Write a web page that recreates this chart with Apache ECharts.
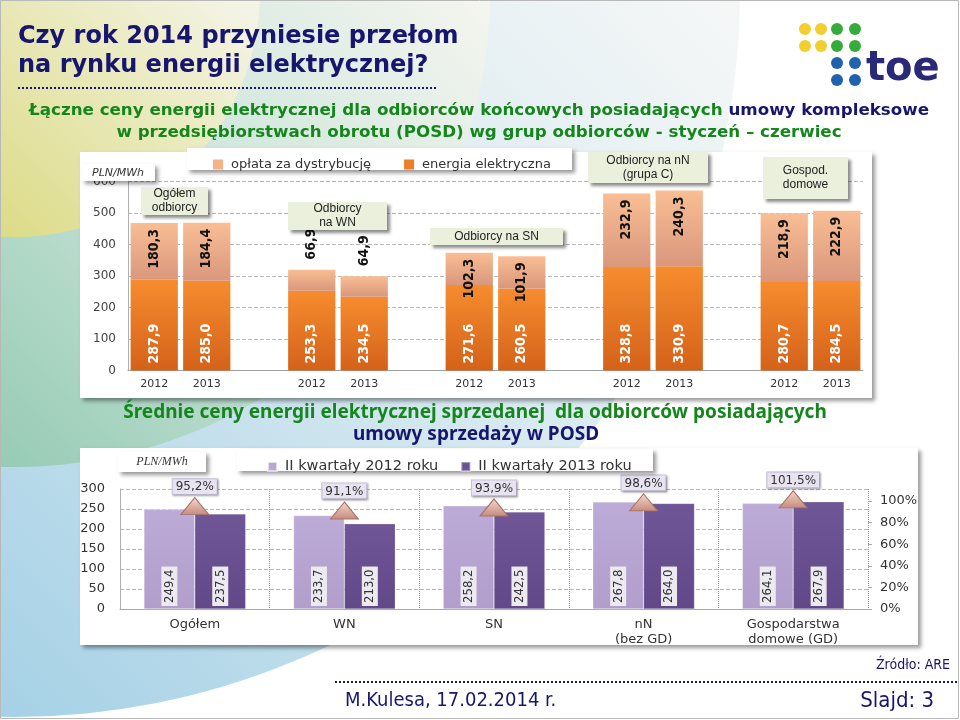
<!DOCTYPE html>
<html><head><meta charset="utf-8">
<script src="https://cdn.jsdelivr.net/npm/echarts@6/dist/echarts.min.js"></script>
<style>html,body{margin:0;padding:0;background:#fff}#c{width:960px;height:720px}</style>
</head><body><div id="c"></div>
<script>
// ---------- DATA ----------
const topGroups = ['Ogółem odbiorcy', 'Odbiorcy na WN', 'Odbiorcy na SN', 'Odbiorcy na nN (grupa C)', 'Gospod. domowe'];
const topYears = ['2012', '2013'];
const topSeriesNames = ['opłata za dystrybucję', 'energia elektryczna'];
// per group: 2012, 2013
const energia = [287.9, 285.0, 253.3, 234.5, 271.6, 260.5, 328.8, 330.9, 280.7, 284.5];
const oplata  = [180.3, 184.4, 66.9, 64.9, 102.3, 101.9, 232.9, 240.3, 218.9, 222.9];

const bottomCategories = ['Ogółem', 'WN', 'SN', 'nN\n(bez GD)', 'Gospodarstwa\ndomowe (GD)'];
const bottomSeriesNames = ['II kwartały 2012 roku', 'II kwartały 2013 roku'];
const q2012 = [249.4, 233.7, 258.2, 267.8, 264.1];
const q2013 = [237.5, 213.0, 242.5, 264.0, 267.9];
const ratio = [95.2, 91.1, 93.9, 98.6, 101.5];

// ---------- BUILD ----------
const fMain = "'DejaVu Sans', Verdana, sans-serif";
const fArial = "'Liberation Sans', Arial, sans-serif";
const fNoto = "'Noto Sans', 'Open Sans', sans-serif";
const fNarrow = "'Liberation Sans Narrow','DejaVu Sans Condensed','Arial Narrow',sans-serif";
const fmt = v => Number(v).toFixed(1).replace('.', ',');

const topCats = [], topE = [], topO = [];
topGroups.forEach((g, gi) => {
  topYears.forEach((y, yi) => {
    topCats.push(g + '|' + y);
    topE.push(energia[gi * 2 + yi]);
    const o = oplata[gi * 2 + yi];
    topO.push(o < 80 ? {value: o, label: {position: 'top', align: 'left', distance: 10}} : o);
  });
  if (gi < topGroups.length - 1) { topCats.push('gap' + gi); topE.push(null); topO.push(null); }
});

const grad = (a, b) => ({type: 'linear', x: 0, y: 0, x2: 0, y2: 1, colorStops: [{offset: 0, color: a}, {offset: 1, color: b}]});
const navy = '#17166f', green = '#15861c';

function annot(x, y, w, h, text) {
  return [
    {type: 'rect', z: 40, shape: {x: x, y: y, width: w, height: h},
     style: {fill: '#eaf0dc', shadowBlur: 3, shadowOffsetX: 3, shadowOffsetY: 3, shadowColor: 'rgba(0,0,0,0.45)'}},
    {type: 'text', z: 41, style: {text: text, x: x + w / 2, y: y + h / 2, align: 'center', verticalAlign: 'middle',
      textAlign: 'center', textVerticalAlign: 'middle', font: '12px ' + fArial, fill: '#222', lineHeight: 14}}
  ];
}
function box(x, y, w, h, z) {
  return {type: 'rect', z: z, shape: {x: x, y: y, width: w, height: h},
    style: {fill: '#fff', shadowBlur: 4, shadowOffsetX: 3, shadowOffsetY: 3, shadowColor: 'rgba(0,0,0,0.4)'}};
}
function txt(text, x, y, font, fill, align) {
  return {type: 'text', z: 45, style: {text: text, x: x, y: y, font: font, fill: fill, align: align || 'left', textAlign: align || 'left',
    verticalAlign: 'middle', textVerticalAlign: 'middle'}};
}

const graphics = [
  // background
  {type: 'rect', z: -10, shape: {x: 0, y: 0, width: 960, height: 720}, style: {fill: '#ffffff'}},
  {type: 'circle', z: -9, shape: {cx: 15, cy: -8, r: 725}, style: {fill: {type: 'linear', x: 0, y: 717, x2: 720, y2: 0, global: true,
    colorStops: [{offset: 0, color: '#a5d1e6'}, {offset: 0.5, color: '#d3e7ef'}, {offset: 1, color: '#f5f7f7'}]}}},
  {type: 'circle', z: -8, shape: {cx: 15, cy: -8, r: 475}, style: {fill: {type: 'linear', x: 0, y: 470, x2: 470, y2: 0, global: true,
    colorStops: [{offset: 0, color: '#96cbb5'}, {offset: 0.55, color: '#cfe6dc'}, {offset: 1, color: '#f3f5ee'}]}}},
  {type: 'circle', z: -7, shape: {cx: 15, cy: -8, r: 245}, style: {fill: {type: 'linear', x: 0, y: 240, x2: 240, y2: 0, global: true,
    colorStops: [{offset: 0, color: '#dcdb86'}, {offset: 1, color: '#f4f4e6'}]}}},
  // chart boxes
  box(80, 152, 792, 246, -5),
  box(80, 448, 838, 197, -5),
  // legend boxes
  box(187, 148, 385, 22, 30),
  box(237, 449, 416, 22, 30),
  // PLN/MWh boxes
  box(82, 164, 73, 17, 30),
  box(118, 452, 88, 20, 30),
  txt('PLN/MWh', 92, 173, 'italic 11px ' + fMain, '#333'),
  txt('PLN/MWh', 162, 462, 'italic 12px \'Liberation Serif\', serif', '#333', 'center'),
  // titles
  txt('Czy rok 2014 przyniesie przełom', 18, 37, 'bold 24px ' + fMain, navy),
  txt('na rynku energii elektrycznej?', 18, 66, 'bold 24px ' + fMain, navy),
  {type: 'line', z: 45, shape: {x1: 18, y1: 88, x2: 436, y2: 88}, style: {stroke: navy, lineWidth: 2, lineDash: [2, 2]}},
  {type: 'text', z: 45, style: {text: '{g|Łączne ceny energii elektrycznej dla odbiorców końcowych posiadających }{b|umowy kompleksowe}',
    x: 479, y: 111, align: 'center', textAlign: 'center', verticalAlign: 'middle', textVerticalAlign: 'middle',
    rich: {g: {fill: green, font: 'bold 16.7px ' + fMain}, b: {fill: navy, font: 'bold 16.7px ' + fMain}}}},
  txt('w przedsiębiorstwach obrotu (POSD) wg grup odbiorców - styczeń – czerwiec', 479, 133, 'bold 16.7px ' + fMain, green, 'center'),
  txt('Średnie ceny energii elektrycznej sprzedanej  dla odbiorców posiadających', 475, 413, 'bold 19px ' + fNoto, green, 'center'),
  txt('umowy sprzedaży w POSD', 476, 435, 'bold 19px ' + fNoto, navy, 'center'),
  // footer
  txt('Źródło: ARE', 950, 665, '14px ' + fNarrow, navy, 'right'),
  {type: 'line', z: 45, shape: {x1: 335, y1: 682, x2: 958, y2: 682}, style: {stroke: navy, lineWidth: 2, lineDash: [2, 2]}},
  txt('M.Kulesa, 17.02.2014 r.', 345, 701, '20px ' + fNarrow, navy),
  txt('Slajd: 3', 934, 701, '22px ' + fNarrow, navy, 'right'),
  // logo
  ...[[805, 29, '#f2cf2e'], [821, 29, '#f2cf2e'], [805, 46, '#f2cf2e'], [821, 46, '#f2cf2e'],
      [837, 29, '#36ab3c'], [855, 29, '#36ab3c'], [837, 46, '#36ab3c'], [855, 46, '#36ab3c'],
      [837, 63, '#1f63b0'], [855, 63, '#1f63b0'], [837, 80, '#1f63b0'], [855, 80, '#1f63b0']].map(d =>
        ({type: 'circle', z: 45, shape: {cx: d[0], cy: d[1], r: 6}, style: {fill: d[2]}})),
  txt('toe', 866, 70, 'bold 40px ' + fMain, '#2c2878'),
  // annotation boxes
  ...annot(141, 187, 67, 28, 'Ogółem\nodbiorcy'),
  ...annot(288, 202, 99, 28, 'Odbiorcy\nna WN'),
  ...annot(430, 228, 133, 17, 'Odbiorcy na SN'),
  ...annot(588, 152, 120, 31, 'Odbiorcy na nN\n(grupa C)'),
  ...annot(763, 157, 85, 42, 'Gospod.\ndomowe'),
  // slide border
  {type: 'rect', z: 60, shape: {x: 0.5, y: 0.5, width: 958, height: 718}, style: {fill: 'none', stroke: '#b8b8b8', lineWidth: 1}}
];

const option = {
  animation: false,
  graphic: {elements: graphics},
  legend: [
    {left: 208, top: 153, itemWidth: 10, itemHeight: 10, itemGap: 33, icon: 'rect', z: 50,
     data: [{name: topSeriesNames[0], itemStyle: {color: '#f6b185'}}, {name: topSeriesNames[1], itemStyle: {color: '#ee7d26'}}],
     textStyle: {fontSize: 13, fontFamily: fMain, color: '#333', padding: [0, 0, 0, 3]}},
    {left: 262, top: 454, itemWidth: 9, itemHeight: 9, itemGap: 22, icon: 'rect', z: 50,
     data: [{name: bottomSeriesNames[0], itemStyle: {color: '#b9a8d3'}}, {name: bottomSeriesNames[1], itemStyle: {color: '#6a5391'}}],
     textStyle: {fontSize: 14.5, fontFamily: fMain, color: '#333', padding: [0, 0, 0, 3]}}
  ],
  grid: [
    {left: 128, right: 97, top: 181.5, height: 189},
    {left: 120, right: 92, top: 489, height: 120}
  ],
  xAxis: [
    {type: 'category', gridIndex: 0, data: topCats,
     axisLine: {lineStyle: {color: '#a0a0a0'}},
     axisTick: {length: 4, lineStyle: {color: '#a0a0a0'}, interval: (i, v) => v.indexOf('|2012') > 0 || v.indexOf('gap') === 0},
     axisLabel: {interval: 0, margin: 8, fontSize: 11, fontFamily: fMain, color: '#333', formatter: v => v.split('|')[1] || ''}},
    {type: 'category', gridIndex: 1, data: bottomCategories,
     axisLine: {lineStyle: {color: '#a8a8a8'}},
     axisTick: {length: 4, lineStyle: {color: '#a8a8a8'}},
     splitLine: {show: true, lineStyle: {type: 'dotted', color: '#999'}},
     axisLabel: {interval: 0, margin: 8, fontSize: 13, lineHeight: 15, fontFamily: fMain, color: '#333'}}
  ],
  yAxis: [
    {type: 'value', gridIndex: 0, min: 0, max: 600, interval: 100,
     axisLine: {show: true, lineStyle: {color: '#b0b0b0'}}, axisTick: {show: false},
     splitLine: {lineStyle: {type: 'dashed', color: '#b8b8b8'}},
     axisLabel: {margin: 12, fontSize: 12, fontFamily: fMain, color: '#444'}},
    {type: 'value', gridIndex: 1, min: 0, max: 300, interval: 50,
     axisLine: {show: true, lineStyle: {color: '#b0b0b0'}}, axisTick: {show: false},
     splitLine: {lineStyle: {type: 'dashed', color: '#b8b8b8'}},
     axisLabel: {margin: 15, fontSize: 13, fontFamily: fMain, color: '#333'}},
    {type: 'value', gridIndex: 1, position: 'right', min: 0, max: 111, interval: 20,
     axisLine: {show: false}, axisTick: {show: true, length: 4, lineStyle: {color: '#aaa'}},
     splitLine: {show: false},
     axisLabel: {margin: 12, fontSize: 13, fontFamily: fMain, color: '#333', showMaxLabel: false, formatter: '{value}%'}}
  ],
  series: [
    {name: topSeriesNames[1], type: 'bar', xAxisIndex: 0, yAxisIndex: 0, stack: 'tot', barWidth: '90%', data: topE,
     itemStyle: {color: grad('#f68c2e', '#d4621a')},
     label: {show: true, position: 'insideBottom', rotate: 90, align: 'left', verticalAlign: 'middle', distance: 7,
       color: '#fff', fontWeight: 'bold', fontSize: 14, fontFamily: fNarrow, formatter: p => fmt(p.value)}},
    {name: topSeriesNames[0], type: 'bar', xAxisIndex: 0, yAxisIndex: 0, stack: 'tot', barWidth: '90%', data: topO,
     itemStyle: {color: grad('#f9be94', '#d9977c')},
     label: {show: true, position: 'insideTop', rotate: 90, align: 'right', verticalAlign: 'middle', distance: 6,
       color: '#111', fontWeight: 'bold', fontSize: 14, fontFamily: fNarrow, formatter: p => fmt(p.value)}},
    {name: bottomSeriesNames[0], type: 'bar', xAxisIndex: 1, yAxisIndex: 1, barWidth: '34%', barGap: '0%', data: q2012,
     itemStyle: {color: grad('#bdabd7', '#b19ecb'), borderColor: 'rgba(255,255,255,0.6)', borderWidth: 0.5},
     label: {show: true, position: 'insideBottom', rotate: 90, align: 'left', verticalAlign: 'middle', distance: 3,
       color: '#333', fontSize: 13, fontFamily: fNarrow, backgroundColor: '#ece9f1', padding: [2, 3, 1, 3], formatter: p => fmt(p.value)}},
    {name: bottomSeriesNames[1], type: 'bar', xAxisIndex: 1, yAxisIndex: 1, barWidth: '34%', barGap: '0%', data: q2013,
     itemStyle: {color: grad('#6e5697', '#614889'), borderColor: 'rgba(255,255,255,0.4)', borderWidth: 0.5},
     label: {show: true, position: 'insideBottom', rotate: 90, align: 'left', verticalAlign: 'middle', distance: 3,
       color: '#333', fontSize: 13, fontFamily: fNarrow, backgroundColor: '#ece9f1', padding: [2, 3, 1, 3], formatter: p => fmt(p.value)}},
    {name: 'zmiana', type: 'scatter', xAxisIndex: 1, yAxisIndex: 2, data: ratio, z: 6,
     symbol: 'triangle', symbolSize: [28, 17],
     itemStyle: {color: grad('#f7d9cc', '#c58a7c'), borderColor: '#a87266', borderWidth: 1, opacity: 1},
     label: {show: true, position: 'top', distance: 3, fontSize: 12, fontFamily: fMain, color: '#333',
       backgroundColor: '#e7e3f0', borderColor: '#cbc4dc', borderWidth: 1, padding: [2, 3, 1, 3],
       shadowBlur: 2, shadowOffsetX: 1, shadowOffsetY: 1, shadowColor: 'rgba(0,0,0,0.25)',
       formatter: p => fmt(p.value) + '%'}}
  ]
};
const chart = echarts.init(document.getElementById('c'));
chart.setOption(option);
</script>
</body></html>
